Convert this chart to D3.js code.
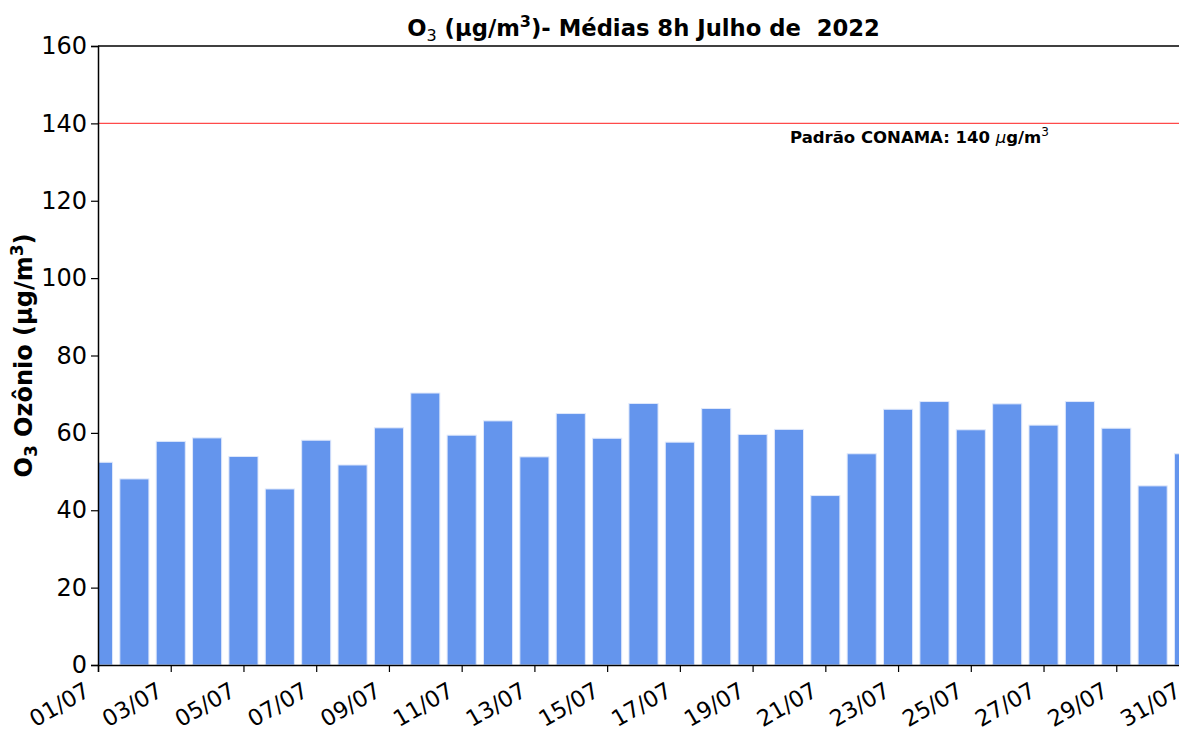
<!DOCTYPE html>
<html>
<head>
<meta charset="utf-8">
<script src="https://cdn.jsdelivr.net/npm/d3@7"></script>
<style>
  body { margin: 0; background: #fff; }
  svg { display: block; font-family: "DejaVu Sans", sans-serif; }
</style>
</head>
<body>
<div id="chart"></div>
<script>
// Tage im Juli 2022
const dias = d3.range(1, 32);
// O3 Médias 8h (µg/m3)
const valores = [52.4, 48.1, 57.8, 58.7, 53.9, 45.5, 58.1, 51.7, 61.3, 70.3,
                 59.4, 63.1, 53.8, 65.0, 58.6, 67.6, 57.6, 66.3, 59.6, 60.9,
                 43.8, 54.6, 66.1, 68.1, 60.8, 67.5, 62.0, 68.1, 61.2, 46.3, 54.6];
const yTicks = [0, 20, 40, 60, 80, 100, 120, 140, 160];
const xTickDias = d3.range(1, 32, 2);
const padrao = 140;

const W = 1179, H = 733;
// Achsenbereich (rechter Rand liegt außerhalb des Bildes, wie im Original)
const margin = { top: 46, left: 98, right: 1189, bottom: 665 };

const svg = d3.select("#chart").append("svg")
  .attr("width", W).attr("height", H);

const x = d3.scaleLinear().domain([1, 31]).range([margin.left, margin.right]);
const y = d3.scaleLinear().domain([0, 160]).range([margin.bottom, margin.top]);
const step = x(2) - x(1);
const barW = step * 0.8;

// Clip auf Achsenbereich
svg.append("clipPath").attr("id", "clip")
  .append("rect")
  .attr("x", margin.left).attr("y", margin.top)
  .attr("width", margin.right - margin.left).attr("height", margin.bottom - margin.top);

const plot = svg.append("g").attr("clip-path", "url(#clip)");

// Balken
plot.selectAll("rect.bar")
  .data(valores)
  .enter()
  .append("rect")
  .attr("class", "bar")
  .attr("x", (d, i) => x(dias[i]) - barW / 2)
  .attr("y", d => y(d))
  .attr("width", barW)
  .attr("height", d => y(0) - y(d))
  .attr("fill", "#6495ED")
  .attr("stroke", "#dfe8fb")
  .attr("stroke-width", 1);

// Grenzwert-Linie
plot.append("line")
  .attr("x1", margin.left).attr("x2", margin.right)
  .attr("y1", y(padrao)).attr("y2", y(padrao))
  .attr("stroke", "#ff4a4a").attr("stroke-width", 1.4);

const anot = svg.append("text")
  .attr("x", 790).attr("y", y(padrao) + 20)
  .style("font-size", "16.5px").style("font-weight", "bold");
anot.append("tspan").text("Padrão CONAMA: 140 ");
anot.append("tspan").text("μ").style("font-style", "italic").style("font-weight", "normal");
anot.append("tspan").text("g/m");
anot.append("tspan").text("3").attr("dy", -7).style("font-size", "12px").style("font-weight", "normal");

// Y-Achse
const yAxis = svg.append("g")
  .attr("transform", `translate(${margin.left},0)`)
  .call(d3.axisLeft(y).tickValues(yTicks).tickSize(7).tickPadding(4));
yAxis.select(".domain").attr("stroke", "#000").attr("stroke-width", 1.5);
yAxis.selectAll(".tick line").attr("stroke-width", 1.2);
yAxis.selectAll("text").style("font-size", "24px").attr("fill", "#000")
  .style("font-family", "DejaVu Sans");

// X-Achse
const xAxis = svg.append("g")
  .attr("transform", `translate(0,${margin.bottom})`)
  .call(d3.axisBottom(x).tickValues(xTickDias).tickSize(7)
    .tickFormat(d => String(d).padStart(2, "0") + "/07"));
xAxis.select(".domain").attr("stroke", "#000").attr("stroke-width", 1.5);
xAxis.selectAll(".tick line").attr("stroke-width", 1.2);
xAxis.selectAll("text")
  .style("font-size", "22.5px").style("font-family", "DejaVu Sans")
  .attr("fill", "#000")
  .attr("text-anchor", "end")
  .attr("y", 0).attr("dy", 0)
  .attr("transform", "translate(-7,30) rotate(-30)");

// Obere Linie
svg.append("line")
  .attr("x1", margin.left).attr("x2", margin.right)
  .attr("y1", margin.top).attr("y2", margin.top)
  .attr("stroke", "#000").attr("stroke-width", 1.5);

// Titel
const titel = svg.append("text")
  .attr("x", (margin.left + margin.right) / 2).attr("y", 36)
  .attr("text-anchor", "middle")
  .attr("xml:space", "preserve")
  .style("font-size", "22.7px").style("font-weight", "bold");
titel.append("tspan").text("O");
titel.append("tspan").text("3").attr("dy", 5).style("font-size", "16px").style("font-weight", "normal");
titel.append("tspan").text(" (µg/m").attr("dy", -5);
titel.append("tspan").text("3").attr("dy", -9).style("font-size", "16px");
titel.append("tspan").text(")- Médias 8h Julho de  2022").attr("dy", 9);

// Y-Beschriftung
const ylab = svg.append("text")
  .attr("transform", `translate(32,${(margin.top + margin.bottom) / 2}) rotate(-90)`)
  .attr("text-anchor", "middle")
  .style("font-size", "24px").style("font-weight", "bold");
ylab.append("tspan").text("O");
ylab.append("tspan").text("3").attr("dy", 5).style("font-size", "17px");
ylab.append("tspan").text(" Ozônio (µg/m").attr("dy", -5);
ylab.append("tspan").text("3").attr("dy", -9).style("font-size", "17px");
ylab.append("tspan").text(")").attr("dy", 9);
</script>
</body>
</html>
